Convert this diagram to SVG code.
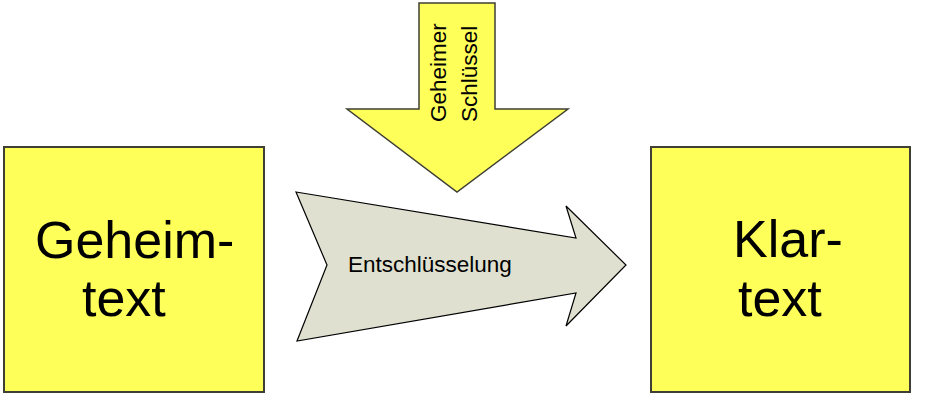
<svg xmlns="http://www.w3.org/2000/svg" width="934" height="412" viewBox="0 0 934 412">
<style>
.box{fill:#ffff5a;stroke:#3f3f34;stroke-width:2}
.big{font-family:"Liberation Sans",Arial,sans-serif;font-size:52px;fill:#000}
.lbl{font-family:"Liberation Sans",Arial,sans-serif;font-size:22.5px;fill:#000}
</style>
<rect width="934" height="412" fill="#ffffff"/>
<g id="geheimtext">
<rect class="box" x="4" y="147" width="260" height="245"/>
<text class="big" x="35" y="258">Geheim-</text>
<text class="big" x="82" y="316">text</text>
</g>
<g id="klartext">
<rect class="box" x="651" y="147" width="259" height="245"/>
<text class="big" x="733" y="257">Klar-</text>
<text class="big" x="738" y="316">text</text>
</g>
<g id="schluessel">
<polygon points="419,3 495,3 495,109 568,109 457,192 347,109 419,109" fill="#ffff5a" stroke="#3f3f34" stroke-width="1.5"/>
<text class="lbl" transform="translate(446,122) rotate(-90)">Geheimer</text>
<text class="lbl" transform="translate(477,122) rotate(-90)">Schlüssel</text>
</g>
<g id="connectors">
<g id="entschluesselung">
<polygon points="296,192 576,238 566,206 626,265 566,326 576,293 297,341 327,265" fill="#dfe0cf" stroke="#000" stroke-width="1.2"/>
<text class="lbl" x="348" y="272">Entschlüsselung</text>
</g>
</g>
</svg>
